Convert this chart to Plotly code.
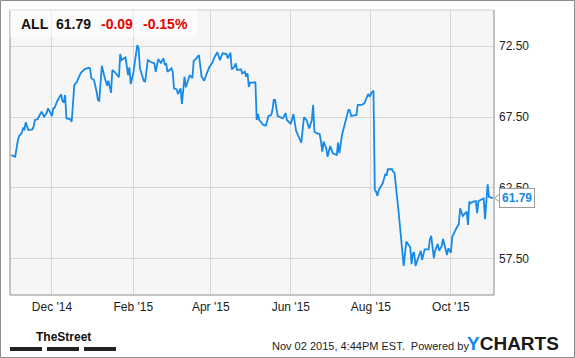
import plotly.graph_objects as go

# --- data ---
dates = [
    "2014-10-31", "2014-11-03", "2014-11-05", "2014-11-06", "2014-11-08", "2014-11-09", "2014-11-10",
    "2014-11-11", "2014-11-13", "2014-11-16", "2014-11-17", "2014-11-18", "2014-11-20", "2014-11-23",
    "2014-11-25", "2014-11-27", "2014-11-28", "2014-12-01", "2014-12-02", "2014-12-03", "2014-12-05",
    "2014-12-08", "2014-12-09", "2014-12-10", "2014-12-11", "2014-12-12", "2014-12-15", "2014-12-16",
    "2014-12-18", "2014-12-20", "2014-12-23", "2014-12-24", "2014-12-26", "2014-12-29", "2014-12-30",
    "2014-12-31", "2015-01-02", "2015-01-04", "2015-01-05", "2015-01-06", "2015-01-08", "2015-01-10",
    "2015-01-11", "2015-01-12", "2015-01-13", "2015-01-15", "2015-01-16", "2015-01-18", "2015-01-21",
    "2015-01-22", "2015-01-23", "2015-01-26", "2015-01-28", "2015-01-29", "2015-01-30", "2015-02-01",
    "2015-02-02", "2015-02-04", "2015-02-05", "2015-02-06", "2015-02-09", "2015-02-10", "2015-02-12",
    "2015-02-14", "2015-02-17", "2015-02-18", "2015-02-20", "2015-02-22", "2015-02-24", "2015-02-25",
    "2015-02-26", "2015-02-27", "2015-03-02", "2015-03-03", "2015-03-04", "2015-03-06", "2015-03-07",
    "2015-03-09", "2015-03-10", "2015-03-12", "2015-03-13", "2015-03-15", "2015-03-16", "2015-03-18",
    "2015-03-19", "2015-03-21", "2015-03-23", "2015-03-25", "2015-03-27", "2015-03-29", "2015-03-31",
    "2015-04-02", "2015-04-04", "2015-04-06", "2015-04-08", "2015-04-10", "2015-04-13", "2015-04-14",
    "2015-04-16", "2015-04-17", "2015-04-19", "2015-04-20", "2015-04-21", "2015-04-24", "2015-04-25",
    "2015-04-27", "2015-04-28", "2015-04-29", "2015-04-30", "2015-05-01", "2015-05-04", "2015-05-05",
    "2015-05-06", "2015-05-07", "2015-05-08", "2015-05-11", "2015-05-13", "2015-05-15", "2015-05-17",
    "2015-05-18", "2015-05-19", "2015-05-20", "2015-05-22", "2015-05-26", "2015-05-28", "2015-05-29",
    "2015-06-01", "2015-06-03", "2015-06-05", "2015-06-07", "2015-06-09", "2015-06-11", "2015-06-13",
    "2015-06-15", "2015-06-17", "2015-06-18", "2015-06-19", "2015-06-21", "2015-06-23", "2015-06-24",
    "2015-06-25", "2015-06-26", "2015-06-28", "2015-06-29", "2015-07-01", "2015-07-03", "2015-07-05",
    "2015-07-06", "2015-07-07", "2015-07-08", "2015-07-10", "2015-07-12", "2015-07-14", "2015-07-15",
    "2015-07-16", "2015-07-17", "2015-07-20", "2015-07-21", "2015-07-22", "2015-07-25", "2015-07-27",
    "2015-07-29", "2015-07-30", "2015-07-31", "2015-08-01", "2015-08-02", "2015-08-03", "2015-08-04",
    "2015-08-05", "2015-08-06", "2015-08-07", "2015-08-10", "2015-08-12", "2015-08-13", "2015-08-14",
    "2015-08-17", "2015-08-18", "2015-08-19", "2015-08-22", "2015-08-24", "2015-08-26", "2015-08-28",
    "2015-08-29", "2015-08-31", "2015-09-01", "2015-09-02", "2015-09-03", "2015-09-04", "2015-09-06",
    "2015-09-08", "2015-09-09", "2015-09-11", "2015-09-14", "2015-09-15", "2015-09-16", "2015-09-18",
    "2015-09-19", "2015-09-21", "2015-09-22", "2015-09-24", "2015-09-25", "2015-09-26", "2015-09-28",
    "2015-09-29", "2015-10-01", "2015-10-02", "2015-10-04", "2015-10-06", "2015-10-07", "2015-10-08",
    "2015-10-10", "2015-10-12", "2015-10-13", "2015-10-14", "2015-10-15", "2015-10-16", "2015-10-18",
    "2015-10-20", "2015-10-21", "2015-10-22", "2015-10-25", "2015-10-26", "2015-10-27", "2015-10-28",
    "2015-10-29", "2015-10-30", "2015-11-02",
]
closes = [
    64.82, 64.70, 65.88, 66.16, 66.39, 66.70, 66.63,
    67.13, 66.58, 66.63, 66.82, 67.29, 67.34, 67.87,
    67.52, 67.80, 68.11, 67.57, 68.11, 68.15, 68.63,
    69.10, 68.63, 68.51, 69.05, 67.41, 67.34, 67.17,
    69.75, 69.99, 70.62, 70.69, 70.88, 70.97, 70.93,
    70.23, 70.11, 69.28, 68.70, 68.65, 71.11, 70.34,
    69.99, 69.70, 70.06, 69.21, 70.81, 70.65, 70.30,
    71.94, 71.51, 71.70, 70.46, 71.00, 69.82, 70.58,
    71.28, 72.57, 72.34, 70.93, 70.04, 70.00, 71.51,
    71.39, 71.28, 70.69, 71.58, 71.32, 71.63, 71.16,
    71.28, 70.69, 70.93, 70.69, 69.52, 69.45, 69.12,
    69.52, 68.42, 70.34, 69.59, 70.11, 70.46, 70.23,
    71.46, 71.63, 71.87, 70.34, 70.06, 70.58, 71.04,
    71.28, 71.75, 72.06, 71.51, 71.99, 71.94, 71.63,
    72.03, 70.86, 71.04, 71.28, 70.81, 70.86, 70.58,
    70.69, 70.34, 70.58, 69.63, 69.92, 69.92, 69.99,
    67.29, 67.71, 67.29, 66.94, 66.89, 67.57, 67.64,
    67.99, 68.70, 68.70, 67.57, 67.41, 67.78, 67.29,
    67.01, 67.71, 66.54, 66.11, 65.69, 67.48, 67.29,
    66.70, 67.29, 68.35, 66.46, 66.35, 66.30, 65.76,
    65.06, 65.76, 65.30, 64.70, 65.46, 64.94, 64.87,
    64.82, 65.69, 64.94, 66.23, 66.94, 67.48, 68.04,
    67.94, 67.57, 67.64, 67.64, 68.35, 68.35, 68.46,
    68.89, 69.12, 68.93, 69.17, 69.28, 69.35, 62.36,
    62.24, 61.94, 62.36, 62.83, 63.46, 63.42, 63.82,
    63.82, 63.65, 63.58, 60.95, 58.84, 57.01, 58.72,
    58.56, 58.32, 57.13, 57.90, 57.94, 57.01, 57.55,
    58.08, 57.43, 58.18, 58.18, 58.89, 59.12, 57.55,
    58.08, 58.56, 58.08, 58.42, 58.91, 58.49, 57.78,
    58.25, 57.94, 59.07, 59.49, 59.82, 59.94, 61.07,
    60.53, 60.76, 60.83, 59.89, 61.54, 61.42, 61.54,
    61.58, 60.72, 61.58, 61.70, 61.77, 60.30, 61.85,
    62.76, 61.88, 61.79,
]
x_tick_dates = ["2014-12-01", "2015-02-01", "2015-04-01", "2015-06-01", "2015-08-01", "2015-10-01"]
y_tick_values = [57.5, 62.5, 67.5, 72.5]

ticker = "ALL"
last_price = "61.79"
change = "-0.09"
change_pct = "-0.15%"
footer_text = "Nov 02 2015, 4:44PM EST.  Powered by"

# --- styling ---
W, H = 575, 358
ML, MR, MT, MB = 10, 81, 10, 63
PW, PH = W - ML - MR, H - MT - MB
LINE_BLUE = "#168ae6"
FONT = "Liberation Sans, Arial, sans-serif"


def px_x(px):
    return (px - ML) / PW


def px_y(py):
    return (H - MB - py) / PH


fig = go.Figure()
fig.add_trace(go.Scatter(
    x=dates, y=closes, mode="lines",
    line=dict(color=LINE_BLUE, width=1.8),
    hoverinfo="skip", showlegend=False,
))

fig.update_layout(
    width=W, height=H,
    margin=dict(l=ML, r=MR, t=MT, b=MB),
    paper_bgcolor="white",
    plot_bgcolor="#f6f6f6",
    font=dict(family=FONT, size=12, color="#222"),
    xaxis=dict(
        type="date",
        range=["2014-10-30", "2015-11-02 20:00"],
        tickvals=x_tick_dates,
        tickformat="%b '%y",
        showgrid=True, gridcolor="#d6d6d6", gridwidth=1,
        zeroline=False, showline=False, ticks="",
        ticklabelstandoff=3,
        tickfont=dict(size=12, color="#222", family=FONT),
    ),
    yaxis=dict(
        range=[54.96, 75.04],
        side="right",
        tickvals=y_tick_values,
        tickformat=".2f",
        showgrid=True, gridcolor="#d6d6d6", gridwidth=1,
        zeroline=False, showline=False, ticks="",
        ticklabelstandoff=4,
        tickfont=dict(size=12, color="#222", family=FONT),
    ),
)

shapes = []
# plot frame
shapes.append(dict(type="line", xref="paper", yref="paper", x0=0, x1=1, y0=1, y1=1,
                   line=dict(color="#cfcfcf", width=1)))
for (x0, y0, x1, y1) in [(0, 0, 0, 1), (1, 0, 1, 1), (0, 0, 1, 0)]:
    shapes.append(dict(type="line", xref="paper", yref="paper", x0=x0, x1=x1, y0=y0, y1=y1,
                       line=dict(color="#8c8c8c", width=1)))
# header box
shapes.append(dict(type="rect", xref="paper", yref="paper",
                   x0=0, x1=px_x(197), y0=px_y(37), y1=1,
                   fillcolor="rgba(255,255,255,0.55)", line=dict(width=0), layer="above"))
# outer border
shapes.append(dict(type="rect", xref="paper", yref="paper",
                   x0=px_x(0.5), x1=px_x(574.5), y0=px_y(357.5), y1=px_y(0.5),
                   line=dict(color="#8c8c8c", width=1)))
# TheStreet bars
for a, b in [(10, 42), (47, 79), (84, 116)]:
    shapes.append(dict(type="rect", xref="paper", yref="paper",
                       x0=px_x(a), x1=px_x(b), y0=px_y(351), y1=px_y(347),
                       fillcolor="#222", line=dict(width=0)))
fig.update_layout(shapes=shapes)

ann = []
hy = px_y(24)
ann.append(dict(text="<b>%s</b>" % ticker, x=px_x(19), y=hy, xref="paper", yref="paper",
                xanchor="left", yanchor="middle", showarrow=False,
                font=dict(size=14, color="#111", family=FONT)))
ann.append(dict(text="<b>%s</b>" % last_price, x=px_x(54), y=hy, xref="paper", yref="paper",
                xanchor="left", yanchor="middle", showarrow=False,
                font=dict(size=14, color="#111", family=FONT)))
ann.append(dict(text="<b>%s</b>" % change, x=px_x(99), y=hy, xref="paper", yref="paper",
                xanchor="left", yanchor="middle", showarrow=False,
                font=dict(size=14, color="#e60000", family=FONT)))
ann.append(dict(text="<b>%s</b>" % change_pct, x=px_x(141), y=hy, xref="paper", yref="paper",
                xanchor="left", yanchor="middle", showarrow=False,
                font=dict(size=14, color="#e60000", family=FONT)))
# price callout
ann.append(dict(text="<b>%s</b>" % last_price, x=px_x(499), y=closes[-1], xref="paper", yref="y",
                xanchor="left", yanchor="middle", showarrow=False,
                bgcolor="white", bordercolor="#9a9a9a", borderwidth=1, borderpad=2,
                font=dict(size=12, color=LINE_BLUE, family=FONT)))
# footer
ann.append(dict(text="<b>TheStreet</b>", x=px_x(63), y=px_y(337), xref="paper", yref="paper",
                xanchor="center", yanchor="middle", showarrow=False,
                font=dict(size=12, color="#111", family=FONT)))
ann.append(dict(text=footer_text, x=px_x(270), y=px_y(346), xref="paper", yref="paper",
                xanchor="left", yanchor="middle", showarrow=False,
                font=dict(size=11, color="#222", family=FONT)))
ann.append(dict(text="<b><span style='color:#168ae6'>Y</span>CHARTS</b>", x=px_x(465), y=px_y(343),
                xref="paper", yref="paper", xanchor="left", yanchor="middle", showarrow=False,
                font=dict(size=19, color="#1a1a1a", family=FONT)))
fig.update_layout(annotations=ann)

# small notch of the callout pointing at the last price
ypx = PH / (75.04 - 54.96)
fig.add_shape(type="path", xref="paper", yref="y",
              path="M %f,%f L %f,%f L %f,%f" % (
                  px_x(499.5), closes[-1] + 4 / ypx,
                  px_x(494.5), closes[-1],
                  px_x(499.5), closes[-1] - 4 / ypx),
              line=dict(color="#9a9a9a", width=1), fillcolor="white", layer="above")

fig.write_html("out.html")
